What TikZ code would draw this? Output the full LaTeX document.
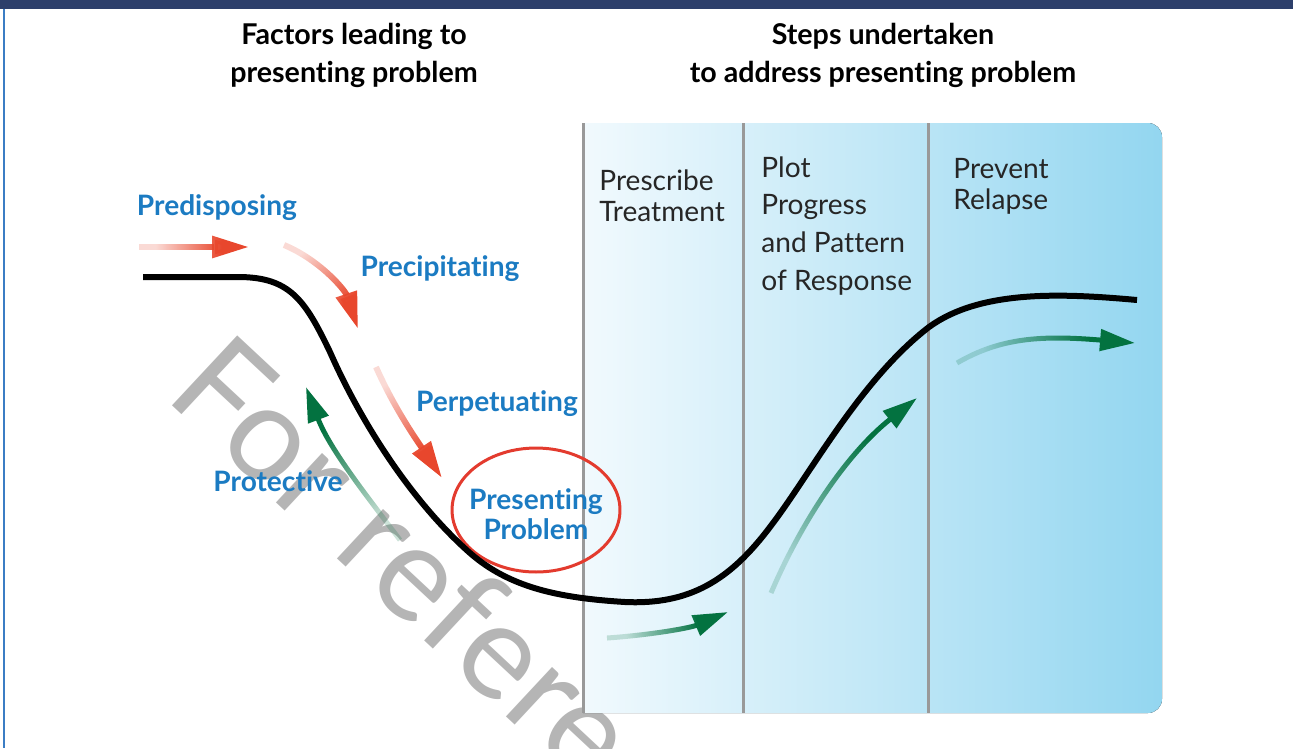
\documentclass[tikz,border=0pt]{standalone}
\usepackage{fontspec}
\setmainfont{Lato}[Ligatures=NoCommon]
\usetikzlibrary{arrows.meta,fadings}
\definecolor{navy}{HTML}{2D3F6B}
\definecolor{edgeblue}{HTML}{3B7DC4}
\definecolor{lblblue}{HTML}{1B7BC2}
\definecolor{arrred}{HTML}{E8472D}
\definecolor{arrgreen}{HTML}{037240}
\definecolor{panelL}{HTML}{F5FBFE}
\definecolor{panelR}{HTML}{93D6F0}
\definecolor{wmgray}{HTML}{B5B5B5}
\definecolor{ringred}{HTML}{E33B2E}
\tikzfading[name=tailfade, left color=transparent!80, middle color=transparent!0, right color=transparent!0]
\tikzset{
  headtext/.style={font=\bfseries\fontsize{16.3}{21.6}\selectfont, align=center, inner sep=0pt},
  factor/.style={font=\bfseries\fontsize{16}{17}\selectfont, text=lblblue, inner sep=0pt, align=center},
  steptext/.style={font=\fontsize{16}{17.6}\selectfont, align=left, anchor=west, inner sep=0pt, text=black!85},
  fadeto/.style n args={4}{path fading=tailfade, fit fading=false,
    fading transform={shift={(#1,#2)}, rotate=#3, scale=#4}},
  redarrow/.style={arrred, line width=0.12cm, -{Triangle[length=0.74cm,width=0.42cm]}},
  greenarrow/.style={arrgreen, line width=0.1cm, -{Triangle[length=0.7cm,width=0.42cm]}},
}
\begin{document}
\begin{tikzpicture}[x=0.02cm,y=-0.02cm]
	\useasboundingbox (0,0) rectangle (1293,748);
	\clip (0,0) rectangle (1293,748);
	\fill[navy] (0,0) rectangle (1293,9);
	\draw[edgeblue, line width=0.05cm] (4,9) -- (4,748);

	\node[wmgray, font=\fontsize{76}{76}\selectfont, rotate=-43, anchor=base west, inner sep=0pt] (wm) at (163,397) {For refere};

	\begin{scope}
		\clip (583,0) rectangle (1293,748);
		\fill[left color=panelL, right color=panelR, rounded corners=0.28cm] (560,123) rectangle (1162,713);
	\end{scope}
	\foreach \x in {583,743,928}
		\draw[black!40, line width=0.06cm] (\x,123) -- (\x,713);

	\node[headtext] (factors) at (354,55) {Factors leading to\\presenting problem};
	\node[headtext] (steps) at (883,55) {Steps undertaken\\to address presenting problem};

	\node[steptext] (prescribe) at (599,196) {Prescribe\\Treatment};
	\node[steptext, font=\fontsize{16}{21.6}\selectfont] (plot) at (761,226) {Plot\\Progress\\and Pattern\\of Response};
	\node[steptext] (prevent) at (953,186) {Prevent\\Relapse};

	\node[factor] (predisp) at (217,208) {Predisposing};
	\node[factor] (precip) at (440,269) {Precipitating};
	\node[factor] (perpet) at (497,404) {Perpetuating};
	\node[factor] (protect) at (278,481) {Protective};
	\node[factor] (present) at (536,514) {Presenting\\Problem};
	\draw[ringred, line width=0.06cm] (536,510) ellipse [x radius=1.68cm, y radius=1.24cm];

	\draw[line width=0.12cm] (143,277) -- (238,277) .. controls (290,277) and (305,300) .. (330,352)
		.. controls (360,420) and (410,500) .. (470,553) .. controls (510,588) and (560,598) .. (625,602)
		.. controls (690,605) and (730,580) .. (770,527) .. controls (810,475) and (860,380) .. (929,327)
		.. controls (980,290) and (1060,293) .. (1137,300);

	\draw[redarrow, fadeto={188.5}{247}{0}{0.75}] (139,247) -- (249,247);
	\draw[redarrow, fadeto={317.3}{282.8}{-48.6}{0.76}] (284,245) .. controls (320,260) and (345,290) .. (358,329);
	\draw[redarrow, fadeto={405.7}{417}{-59.3}{0.88}] (376,367) .. controls (395,410) and (420,445) .. (442,478);

	\draw[greenarrow, fadeto={357.7}{471}{121.6}{1.22}] (400,540) .. controls (370,500) and (330,450) .. (306,387);
	\draw[greenarrow, fadeto={661.5}{626.3}{12.1}{0.84}] (607,638) .. controls (650,635) and (690,628) .. (728,612);
	\draw[greenarrow, fadeto={836.7}{505.3}{53.2}{1.66}] (771,593) .. controls (800,525) and (845,455) .. (917,398);
	\draw[greenarrow, fadeto={1037}{354}{6.4}{1.22}] (957,363) .. controls (1000,338) and (1040,335) .. (1135,343);
\end{tikzpicture}
\end{document}
